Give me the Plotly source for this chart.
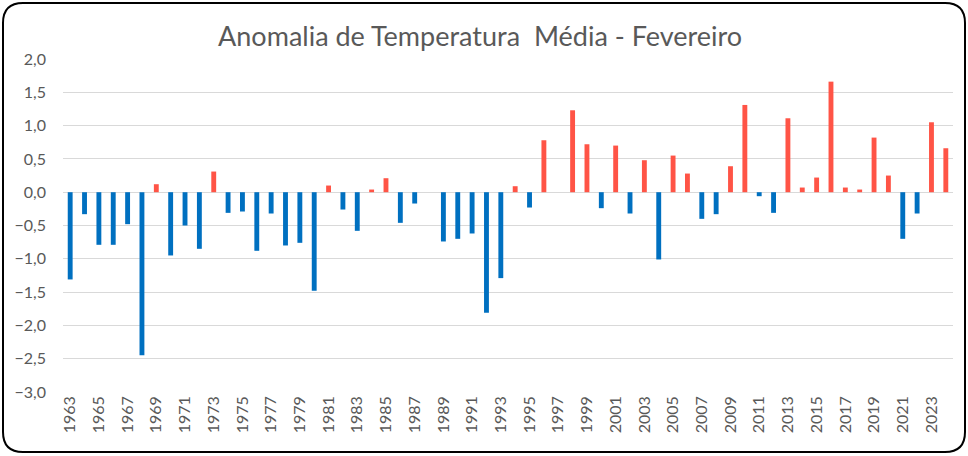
import plotly.graph_objects as go

years = [str(y) for y in range(1963, 2025)]
anomaly = [
    -1.31, -0.33, -0.79, -0.79, -0.48, -2.45, 0.12, -0.95, -0.50, -0.85,
    0.31, -0.31, -0.29, -0.88, -0.32, -0.80, -0.76, -1.48, 0.10, -0.26,
    -0.58, 0.04, 0.21, -0.46, -0.17, 0.0, -0.74, -0.70, -0.62, -1.81,
    -1.29, 0.09, -0.23, 0.78, 0.0, 1.23, 0.72, -0.24, 0.70, -0.32,
    0.48, -1.01, 0.55, 0.28, -0.40, -0.33, 0.39, 1.31, -0.06, -0.31,
    1.11, 0.07, 0.22, 1.66, 0.07, 0.04, 0.82, 0.25, -0.70, -0.32,
    1.05, 0.66,
]
tick_years = [str(y) for y in range(1963, 2025, 2)]
y_ticks = [2.0, 1.5, 1.0, 0.5, 0.0, -0.5, -1.0, -1.5, -2.0, -2.5, -3.0]

RED = "#FF5446"
BLUE = "#0070C0"
colors = [RED if v > 0 else BLUE for v in anomaly]

W, H = 968, 456
L, R, T, B = 63, 15, 59, 64
pw, ph = W - L - R, H - T - B


def px(x):
    return (x - L) / pw


def py(y):
    return (H - B - y) / ph


fig = go.Figure(go.Bar(
    x=years, y=anomaly, marker=dict(color=colors, line=dict(width=0)),
    hoverinfo="x+y",
))

# rounded chart border
x0, x1, y0, y1, r = 3, 965, 3, 452, 20
path = (
    f"M {px(x0 + r)},{py(y0)} L {px(x1 - r)},{py(y0)} "
    f"Q {px(x1)},{py(y0)} {px(x1)},{py(y0 + r)} "
    f"L {px(x1)},{py(y1 - r)} Q {px(x1)},{py(y1)} {px(x1 - r)},{py(y1)} "
    f"L {px(x0 + r)},{py(y1)} Q {px(x0)},{py(y1)} {px(x0)},{py(y1 - r)} "
    f"L {px(x0)},{py(y0 + r)} Q {px(x0)},{py(y0)} {px(x0 + r)},{py(y0)} Z"
)

fig.update_layout(
    width=W, height=H,
    margin=dict(l=L, r=R, t=T, b=B, autoexpand=False),
    paper_bgcolor="white", plot_bgcolor="white",
    separators=",.",
    bargap=0.66,
    showlegend=False,
    font=dict(family="Lato, sans-serif", color="#595959"),
    title=dict(
        text="Anomalia de Temperatura  Média - Fevereiro",
        x=0.496, xref="container", xanchor="center",
        y=1 - 37 / H, yref="container", yanchor="middle",
        font=dict(size=27, color="#595959", family="Lato, sans-serif"),
    ),
    xaxis=dict(
        type="category", tickmode="array", tickvals=tick_years, ticktext=tick_years,
        tickangle=-90, showgrid=False, showline=False, ticks="",
        tickfont=dict(size=16, color="#595959"),
    ),
    yaxis=dict(
        range=[-3, 2], tickmode="array", tickvals=y_ticks, tickformat=".1f",
        showgrid=True, gridcolor="#D9D9D9", gridwidth=1,
        zeroline=True, zerolinecolor="#D9D9D9", zerolinewidth=1,
        showline=False, ticks="", ticklabelstandoff=16,
        tickfont=dict(size=16, color="#595959"),
    ),
    shapes=[dict(type="path", path=path, xref="paper", yref="paper",
                 line=dict(color="black", width=2), fillcolor="rgba(0,0,0,0)",
                 layer="above")],
)

fig.write_html(
    "out.html",
    config={"displayModeBar": False},
    post_script="document.body.style.margin='0';document.body.style.overflow='hidden';",
)
